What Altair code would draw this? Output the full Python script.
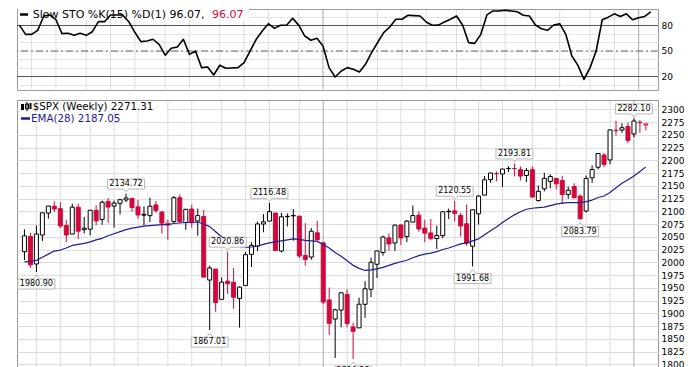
import altair as alt
import pandas as pd

# ---------------- data (weekly $SPX, Jan 2015 - Jan 2017) ----------------
opens = [
    2020.76, 2050.42, 1996.67, 2053.47, 2096.47, 2109.83, 2105.23, 2072.25, 2055.35, 2107.99,
    2064.11, 2064.87, 2102.03, 2084.11, 2119.29, 2110.23, 2115.56, 2122.27, 2125.34, 2108.64,
    2092.34, 2091.34, 2112.50, 2098.63, 2073.00, 2080.00, 2126.80, 2078.00, 2104.49, 2080.98,
    2089.70, 1965.15, 1986.73, 1927.30, 1963.06, 1960.84, 1929.18, 1954.33, 2015.65, 2031.73,
    2075.08, 2080.76, 2096.56, 2022.08, 2089.41, 2090.95, 2090.42, 2013.37, 2010.27, 2057.77,
    2038.20, 1926.12, 1888.66, 1906.28, 1936.94, 1873.25, 1871.44, 1917.56, 1947.13, 1996.11,
    2019.27, 2047.88, 2037.89, 2073.19, 2050.23, 2078.83, 2092.42, 2067.17, 2057.55, 2046.53,
    2052.23, 2100.13, 2100.83, 2091.75, 2075.58, 2031.45, 2095.05, 2131.72, 2162.04, 2173.71,
    2173.15, 2183.76, 2183.74, 2181.58, 2170.19, 2181.61, 2120.86, 2143.99, 2158.54, 2164.33,
    2160.39, 2132.95, 2148.50, 2129.78, 2100.59, 2165.64, 2186.43, 2210.21, 2200.65, 2258.83,
    2259.24, 2266.23, 2251.57, 2273.59, 2269.14]
highs = [
    2064.62, 2057.62, 2072.40, 2097.03, 2110.61, 2119.59, 2117.52, 2083.49, 2114.86, 2114.86,
    2088.97, 2102.61, 2111.91, 2120.92, 2125.92, 2120.95, 2123.89, 2134.72, 2126.22, 2121.92,
    2109.48, 2126.65, 2120.00, 2100.00, 2083.57, 2129.90, 2132.82, 2104.50, 2112.66, 2105.35,
    2102.87, 1993.48, 1986.73, 1970.42, 2020.86, 1988.63, 1953.00, 2020.13, 2039.12, 2079.74,
    2094.32, 2116.48, 2097.00, 2097.06, 2095.61, 2104.27, 2090.42, 2076.72, 2067.00, 2081.56,
    2038.20, 1950.33, 1908.85, 1940.24, 1947.20, 1881.60, 1930.68, 1962.96, 2009.13, 2022.37,
    2052.36, 2056.60, 2074.02, 2074.02, 2083.06, 2111.05, 2099.89, 2083.42, 2084.87, 2071.88,
    2099.06, 2105.26, 2120.55, 2096.89, 2113.32, 2104.27, 2131.71, 2169.05, 2175.63, 2178.29,
    2183.00, 2188.45, 2193.81, 2187.94, 2184.87, 2187.87, 2150.80, 2175.30, 2172.67, 2165.86,
    2169.60, 2148.44, 2154.79, 2133.25, 2170.10, 2189.89, 2213.35, 2214.10, 2259.80, 2277.53,
    2272.56, 2273.82, 2282.10, 2279.27, 2272.08]
lows = [
    2004.49, 1989.18, 1980.90, 2041.88, 2085.44, 2098.26, 2067.27, 2039.69, 2055.35, 2045.50,
    2056.52, 2052.96, 2072.40, 2073.48, 2077.52, 2067.93, 2093.79, 2118.00, 2099.18, 2085.67,
    2072.14, 2079.00, 2097.00, 2056.32, 2044.02, 2077.00, 2077.00, 2063.52, 2067.91, 2052.09,
    1970.89, 1867.01, 1903.07, 1927.30, 1938.00, 1908.77, 1871.91, 1954.33, 1990.73, 2022.00,
    2058.84, 2080.76, 2022.00, 2019.39, 2070.29, 2042.35, 2008.00, 1993.26, 2005.00, 2043.62,
    1918.00, 1857.83, 1812.29, 1872.65, 1872.65, 1810.10, 1871.44, 1891.00, 1931.81, 1969.25,
    2013.00, 2022.49, 2022.00, 2033.80, 2039.74, 2078.46, 2060.00, 2039.45, 2043.13, 2025.91,
    2047.00, 2085.05, 2080.00, 2050.37, 2032.11, 1991.68, 2074.02, 2131.72, 2156.00, 2159.07,
    2147.58, 2177.00, 2168.50, 2160.39, 2157.09, 2127.81, 2119.12, 2139.00, 2145.00, 2142.63,
    2114.72, 2124.43, 2126.00, 2083.79, 2097.62, 2156.00, 2182.00, 2187.27, 2192.00, 2248.44,
    2254.00, 2233.62, 2245.13, 2254.25, 2258.41]
closes = [
    2051.82, 1994.99, 2055.47, 2096.99, 2110.30, 2104.50, 2071.26, 2053.40, 2108.10, 2061.02,
    2066.96, 2102.06, 2081.18, 2117.69, 2108.29, 2116.10, 2122.73, 2126.06, 2107.39, 2092.83,
    2094.11, 2109.99, 2101.49, 2076.78, 2076.62, 2126.64, 2079.65, 2103.84, 2077.57, 2091.54,
    1970.89, 1988.87, 1921.22, 1961.05, 1958.08, 1931.34, 1951.36, 2014.89, 2033.11, 2075.15,
    2079.36, 2099.20, 2023.04, 2089.17, 2090.11, 2091.69, 2012.37, 2005.55, 2060.99, 2043.94,
    1922.03, 1880.33, 1906.90, 1940.24, 1880.05, 1864.78, 1917.78, 1948.05, 1999.99, 2022.19,
    2049.58, 2035.94, 2072.78, 2047.60, 2080.73, 2091.58, 2065.30, 2057.14, 2046.61, 2052.32,
    2099.06, 2099.13, 2096.07, 2071.22, 2037.41, 2102.95, 2129.90, 2161.74, 2175.03, 2173.60,
    2182.87, 2184.05, 2183.87, 2169.04, 2179.98, 2127.81, 2139.16, 2164.69, 2168.27, 2153.74,
    2132.98, 2141.16, 2126.41, 2085.18, 2164.45, 2181.90, 2213.35, 2191.95, 2259.53, 2258.07,
    2263.79, 2238.83, 2276.98, 2274.64, 2271.31]
ema28 = [
    2001, 2002, 2003.6, 2010, 2016, 2022, 2024, 2028, 2033, 2035,
    2037, 2040, 2044, 2047, 2052, 2056, 2060, 2064, 2067, 2069,
    2071, 2072, 2073, 2074, 2074, 2076, 2077, 2078, 2078, 2079,
    2075, 2070, 2060, 2050, 2043, 2036, 2031, 2029, 2030, 2032,
    2035, 2038, 2040, 2042, 2044, 2046, 2045, 2043, 2042, 2041,
    2035, 2028, 2019, 2012, 2003, 1994, 1988, 1984, 1985, 1987,
    1990, 1994, 1998, 2001, 2004, 2009, 2013, 2016, 2018, 2021,
    2025, 2028, 2032, 2036, 2038, 2042, 2046, 2054, 2062, 2069,
    2078, 2086, 2093, 2099, 2104, 2106, 2107, 2108, 2111, 2114,
    2116, 2117, 2117, 2117, 2119, 2122, 2127, 2130, 2137, 2146,
    2155, 2162, 2169, 2178, 2187.05]
slow_sto = [
    80.4, 69.6, 69.6, 74.3, 91.2, 92.4, 87.0, 70.4, 70.8, 68.4,
    70.8, 68.4, 72.7, 84.5, 84.5, 92.4, 92.4, 92.4, 84.5, 72.0,
    61.0, 61.8, 63.8, 57.9, 45.0, 53.2, 54.7, 63.8, 46.0, 50.0,
    30.4, 31.2, 21.8, 33.2, 29.6, 30.0, 30.4, 36.3, 50.0, 63.8,
    73.5, 82.1, 76.7, 80.2, 80.2, 88.4, 80.4, 67.6, 62.6, 64.9,
    55.9, 30.4, 19.4, 26.5, 30.4, 28.5, 25.3, 34.3, 48.0, 60.0,
    71.6, 78.2, 87.3, 87.3, 92.0, 91.6, 91.2, 84.1, 80.2, 80.4,
    84.0, 87.3, 91.2, 80.6, 59.8, 59.0, 69.6, 92.4, 97.1, 97.1,
    97.9, 97.0, 96.2, 92.0, 91.2, 80.6, 76.2, 74.3, 80.6, 82.1,
    69.6, 44.1, 33.0, 16.5, 30.4, 50.0, 86.7, 89.8, 93.7, 90.6,
    93.7, 86.7, 89.1, 90.6, 96.07]

month_starts = [2, 6, 11, 15, 19, 24, 28, 33, 37, 41, 46, 50, 54, 59, 63, 67,
                72, 76, 80, 85, 89, 94, 98, 102]
year_starts = [50, 102]
price_ticks = [1800, 1825, 1850, 1875, 1900, 1925, 1950, 1975, 2000, 2025, 2050,
               2075, 2100, 2125, 2150, 2175, 2200, 2225, 2250, 2275, 2300]
sto_grid = [10, 20, 30, 40, 50, 60, 70, 80, 90]
sto_levels = [20, 80]
sto_mid = [50]
high_idx = [17, 34, 41, 72, 82, 102]
high_text = ["2134.72", "2020.86", "2116.48", "2120.55", "2193.81", "2282.10"]
low_idx = [2, 31, 55, 75, 93]
low_text = ["1980.90", "1867.01", "1810.10", "1991.68", "2083.79"]

# ---------------- styling ----------------
RED = "#d1083c"
NAVY = "#1c1c96"
GRID = "#dddddd"
FONT = "DejaVu Sans"
W, PH, SH = 641, 280, 81

df = pd.DataFrame({"i": list(range(len(closes))), "open": opens, "high": highs,
                   "low": lows, "close": closes, "ema": ema28, "sto": slow_sto})
prev = df["close"].shift(1).fillna(df["open"])
df["col"] = ["#000000" if c >= p else RED for c, p in zip(df["close"], prev)]
df["fill"] = ["#ffffff" if c >= o else k for c, o, k in zip(df["close"], df["open"], df["col"])]
df["blo"] = df[["open", "close"]].min(axis=1)
df["bhi"] = df[["open", "close"]].max(axis=1)

xs = alt.Scale(domain=[-0.41, 105.19], nice=False, zero=False)
X = alt.X("i:Q", scale=xs, axis=None)

grid_df = pd.DataFrame({"i": month_starts,
                        "kind": ["year" if m in year_starts else "month" for m in month_starts]})
vgrid_color = alt.Color("kind:N", scale=alt.Scale(domain=["month", "year"],
                                                  range=[GRID, "#aaaaaa"]), legend=None)
one = pd.DataFrame({"a": [0]})

# ---------------- stochastic panel ----------------
ss = alt.Scale(domain=[4.1, 99.4], nice=False, zero=False)
sax = alt.Axis(orient="right", values=sto_grid, grid=True, gridColor="#e4e4e4",
               ticks=False, domain=False, labelPadding=3, labelFont=FONT,
               labelFontSize=9, labelColor="#000000", labelOverlap=False, format="d",
               labelExpr="(datum.value==20||datum.value==50||datum.value==80) ? datum.label : ''",
               title=None)

# white anchor in the left margin, fixes the left bound of the drawing
anchor = alt.Chart(one).mark_rect(color="white").encode(
    x=alt.value(-8), x2=alt.value(-7), y=alt.value(30), y2=alt.value(31))
s_vgrid = alt.Chart(grid_df).mark_rule(strokeWidth=1, strokeJoin="round").encode(
    x=X, y=alt.value(1), y2=alt.value(SH - 1), color=vgrid_color)
s_lv = alt.Chart(pd.DataFrame({"v": sto_levels})).mark_rule(
    color="#555555", strokeWidth=1, strokeJoin="round").encode(y=alt.Y("v:Q", scale=ss, axis=sax))
s_mid = alt.Chart(pd.DataFrame({"v": sto_mid})).mark_rule(
    color="#666666", strokeWidth=1, strokeDash=[7, 3, 2, 3], strokeJoin="round").encode(
    y=alt.Y("v:Q", scale=ss, axis=sax))
s_box = alt.Chart(one).mark_rect(color="white").encode(
    x=alt.value(1), x2=alt.value(232), y=alt.value(0), y2=alt.value(11))
s_line = alt.Chart(df).mark_line(color="#000000", strokeWidth=1.6, strokeJoin="round").encode(
    x=X, y=alt.Y("sto:Q", scale=ss, axis=sax))
s_dash = alt.Chart(one).mark_rule(color="#000000", strokeWidth=2.5).encode(
    x=alt.value(3), x2=alt.value(11), y=alt.value(5.5))
s_txt = alt.Chart(one).mark_text(align="left", baseline="middle", font=FONT,
                                 fontSize=11, color="#000000").encode(
    x=alt.value(15.7), y=alt.value(5.8), text=alt.value("Slow STO %K(15) %D(1) 96.07,"))
s_txt2 = alt.Chart(one).mark_text(align="left", baseline="middle", font=FONT,
                                  fontSize=11, color=RED).encode(
    x=alt.value(195), y=alt.value(5.8), text=alt.value("96.07"))

sto_chart = alt.layer(anchor, s_vgrid, s_lv, s_mid, s_box, s_line, s_dash, s_txt,
                      s_txt2).properties(width=W, height=SH)

# ---------------- price panel ----------------
ys = alt.Scale(domain=[1769.2, 2318.2], nice=False, zero=False)
pax = alt.Axis(orient="right", values=price_ticks, grid=True, gridColor=GRID, ticks=False,
               domain=False, labelPadding=3, labelFont=FONT, labelFontSize=9, format="d",
               labelColor="#000000", labelOverlap=False, title=None)

p_vgrid = alt.Chart(grid_df).mark_rule(strokeWidth=1, strokeJoin="round").encode(
    x=X, y=alt.value(1), y2=alt.value(PH - 1), color=vgrid_color)
wicks = alt.Chart(df).mark_rule(strokeWidth=1, strokeJoin="round").encode(
    x=X, y=alt.Y("low:Q", scale=ys, axis=pax), y2="high:Q",
    color=alt.Color("col:N", scale=None))
bodies = alt.Chart(df).mark_bar(size=4, strokeWidth=1).encode(
    x=X, y=alt.Y("blo:Q", scale=ys, axis=pax), y2="bhi:Q",
    fill=alt.Fill("fill:N", scale=None), stroke=alt.Stroke("col:N", scale=None))
ema_line = alt.Chart(df).mark_line(color=NAVY, strokeWidth=1.2, strokeJoin="round").encode(
    x=X, y=alt.Y("ema:Q", scale=ys, axis=pax))

hi_df = pd.DataFrame({"i": high_idx, "v": [highs[k] for k in high_idx], "t": high_text})
lo_df = pd.DataFrame({"i": low_idx, "v": [lows[k] for k in low_idx], "t": low_text})
HI_PATH = "M0,-0.1 L0.15,-0.225 L0.925,-0.225 L0.925,-0.725 L-0.925,-0.725 L-0.925,-0.225 L-0.15,-0.225 Z"
LO_PATH = "M0,0.15 L0.15,0.35 L0.925,0.35 L0.925,0.85 L-0.925,0.85 L-0.925,0.35 L-0.15,0.35 Z"
hi_box = alt.Chart(hi_df).mark_point(shape=HI_PATH, size=1600, filled=True, fill="white",
                                     stroke="#b8b8b8", strokeWidth=1, opacity=1).encode(
    x=X, y=alt.Y("v:Q", scale=ys, axis=pax))
hi_txt = alt.Chart(hi_df).mark_text(dy=-9.5, baseline="middle", align="center", font=FONT,
                                    fontSize=8, color="#000000").encode(
    x=X, y=alt.Y("v:Q", scale=ys, axis=pax), text="t:N")
lo_box = alt.Chart(lo_df).mark_point(shape=LO_PATH, size=1600, filled=True, fill="white",
                                     stroke="#b8b8b8", strokeWidth=1, opacity=1).encode(
    x=X, y=alt.Y("v:Q", scale=ys, axis=pax))
lo_txt = alt.Chart(lo_df).mark_text(dy=12, baseline="middle", align="center", font=FONT,
                                    fontSize=8, color="#000000").encode(
    x=X, y=alt.Y("v:Q", scale=ys, axis=pax), text="t:N")

p_box1 = alt.Chart(one).mark_rect(color="white").encode(
    x=alt.value(1), x2=alt.value(150), y=alt.value(1), y2=alt.value(12))
p_box2 = alt.Chart(one).mark_rect(color="white").encode(
    x=alt.value(1), x2=alt.value(92), y=alt.value(12), y2=alt.value(24))
icon_a = alt.Chart(one).mark_rect(color="#000000").encode(
    x=alt.value(4), x2=alt.value(7), y=alt.value(4), y2=alt.value(10))
icon_b = alt.Chart(one).mark_rect(fill="white", stroke="#000000", strokeWidth=1).encode(
    x=alt.value(8.5), x2=alt.value(11.5), y=alt.value(4), y2=alt.value(9))
icon_w = alt.Chart(one).mark_rule(color="#000000", strokeWidth=1).encode(
    x=alt.value(10), y=alt.value(2), y2=alt.value(11))
icon_c = alt.Chart(one).mark_rect(color="#000000").encode(
    x=alt.value(12.5), x2=alt.value(14.5), y=alt.value(3), y2=alt.value(9))
p_txt1 = alt.Chart(one).mark_text(align="left", baseline="middle", font=FONT,
                                  fontSize=10.3, color="#000000").encode(
    x=alt.value(15.7), y=alt.value(6.5), text=alt.value("$SPX (Weekly) 2271.31"))
p_dash = alt.Chart(one).mark_rule(color=NAVY, strokeWidth=2.5).encode(
    x=alt.value(4), x2=alt.value(13), y=alt.value(18.5))
p_txt2 = alt.Chart(one).mark_text(align="left", baseline="middle", font=FONT,
                                  fontSize=10.3, color=NAVY).encode(
    x=alt.value(14), y=alt.value(18.5), text=alt.value("EMA(28) 2187.05"))

price_chart = alt.layer(p_vgrid, wicks, bodies, ema_line, hi_box, hi_txt, lo_box, lo_txt,
                        p_box1, p_box2, icon_a, icon_b, icon_w, icon_c, p_txt1, p_dash,
                        p_txt2).properties(width=W, height=PH)

chart = alt.vconcat(sto_chart, price_chart, spacing=10, bounds="flush").properties(
    padding={"left": 0, "top": 0, "right": 0, "bottom": 0},
    background="white",
).configure_view(stroke="#999999")

chart.save("out.html", embed_options={"renderer": "svg", "actions": False})
